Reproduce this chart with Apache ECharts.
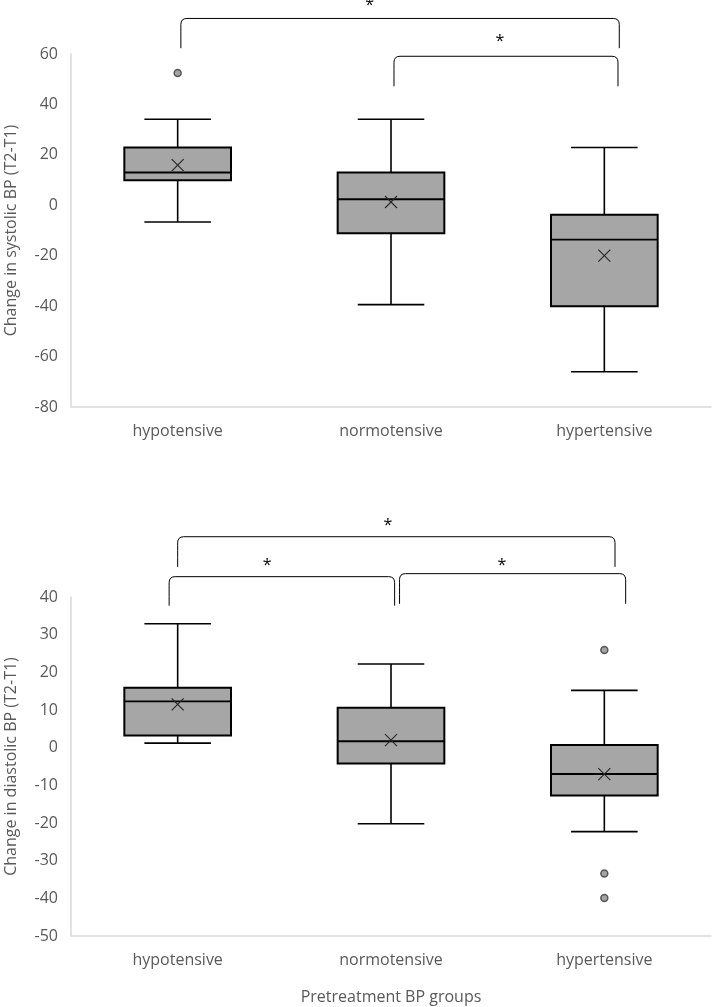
<!DOCTYPE html>
<html>
<head>
<meta charset="utf-8">
<script src="https://cdn.jsdelivr.net/npm/echarts@6/dist/echarts.min.js"></script>
<style>
html,body{margin:0;padding:0;background:#fff;}
#chart{width:714px;height:1007px;}
</style>
</head>
<body>
<div id="chart"></div>
<script>
// ---------- DATA ----------
const categories = ['hypotensive', 'normotensive', 'hypertensive'];

// [lower whisker, Q1, median, Q3, upper whisker]
const systolicBox = [
  [-6.6, 9.9, 13.0, 22.9, 34.1],
  [-39.4, -11.1, 2.4, 13.0, 34.1],
  [-66.0, -40.0, -13.6, -3.8, 22.9]
];
const systolicMean = [15.9, 1.3, -20.0];
const systolicOutliers = [[0, 52.5]];

const diastolicBox = [
  [1.2, 3.2, 12.3, 15.9, 32.9],
  [-20.2, -4.2, 1.7, 10.6, 22.2],
  [-22.3, -12.7, -7.0, 0.7, 15.2]
];
const diastolicMean = [11.5, 2.0, -7.0];
const diastolicOutliers = [[2, 25.9], [2, -33.4], [2, -39.9]];

// significance brackets: [from category pos, to category pos, bar level, foot level, star pos, star level]
const systolicBrackets = [
  [0.015, 2.07, 74.1, 62.3, 0.90, 79.4],
  [1.014, 2.064, 59.1, 47.2, 1.51, 65.1]
];
const diastolicBrackets = [
  [0.0, 2.05, 56.0, 48.0, 0.985, 59.1],
  [-0.04, 1.017, 45.4, 37.7, 0.42, 48.5],
  [1.04, 2.10, 46.2, 38.2, 1.52, 48.5]
];

const sysTicks = {min: -80, max: 60, interval: 20};
const diaTicks = {min: -50, max: 40, interval: 10};

// ---------- RENDERING ----------
const FONT = '"Open Sans", "Noto Sans", sans-serif';
const GREY_TXT = '#595959';

function boxRender(boxes, means) {
  return function (params, api) {
    const i = params.dataIndex;
    const b = boxes[i];
    const cx = api.coord([i, 0])[0];
    const band = api.size([1, 0])[0];
    const hw = band * 0.25;
    const cap = band * 0.078;
    const y = v => api.coord([i, v])[1];
    const lineStyle = {stroke: '#000', lineWidth: 1.6, fill: null};
    const my = y(means[i]);
    const m = 6;
    return {
      type: 'group',
      children: [
        {type: 'line', shape: {x1: cx, y1: y(b[0]), x2: cx, y2: y(b[1])}, style: lineStyle},
        {type: 'line', shape: {x1: cx, y1: y(b[3]), x2: cx, y2: y(b[4])}, style: lineStyle},
        {type: 'line', shape: {x1: cx - cap * 2, y1: y(b[0]), x2: cx + cap * 2, y2: y(b[0])}, style: lineStyle},
        {type: 'line', shape: {x1: cx - cap * 2, y1: y(b[4]), x2: cx + cap * 2, y2: y(b[4])}, style: lineStyle},
        {type: 'rect', shape: {x: cx - hw, y: y(b[3]), width: hw * 2, height: y(b[1]) - y(b[3])},
          style: {fill: '#a6a6a6', stroke: '#000', lineWidth: 2}},
        {type: 'line', shape: {x1: cx - hw, y1: y(b[2]), x2: cx + hw, y2: y(b[2])}, style: {stroke: '#000', lineWidth: 1.9}},
        {type: 'line', shape: {x1: cx - m, y1: my - m, x2: cx + m, y2: my + m}, style: {stroke: '#262626', lineWidth: 1.1}},
        {type: 'line', shape: {x1: cx - m, y1: my + m, x2: cx + m, y2: my - m}, style: {stroke: '#262626', lineWidth: 1.1}}
      ]
    };
  };
}

function bracketRender(brackets) {
  return function (params, api) {
    const br = brackets[params.dataIndex];
    const band = api.size([1, 0])[0];
    const px = pos => {
      const base = Math.round(pos);
      return api.coord([base, 0])[0] + (pos - base) * band;
    };
    const py = v => api.coord([0, v])[1];
    const x1 = px(br[0]), x2 = px(br[1]);
    const yt = py(br[2]), yf = py(br[3]);
    const r = 6;
    const path = 'M' + x1 + ',' + yf +
      ' Q' + x1 + ',' + (yt + r * 1.5) + ' ' + x1 + ',' + (yt + r) +
      ' Q' + x1 + ',' + yt + ' ' + (x1 + r) + ',' + yt +
      ' L' + (x2 - r) + ',' + yt +
      ' Q' + x2 + ',' + yt + ' ' + x2 + ',' + (yt + r) +
      ' L' + x2 + ',' + yf;
    return {
      type: 'group',
      children: [
        {type: 'path', shape: {pathData: path}, style: {stroke: '#000', lineWidth: 1, fill: null}},
        {type: 'text', x: px(br[4]), y: py(br[5]),
          style: {text: '*', fill: '#000', font: '16px ' + FONT, align: 'center', verticalAlign: 'middle'}}
      ]
    };
  };
}

function makeXAxis(gridIndex, name) {
  return {
    type: 'category', gridIndex, data: categories, boundaryGap: true,
    axisLine: {show: true, onZero: false, lineStyle: {color: '#d9d9d9', width: 1.5}},
    axisTick: {show: false},
    axisLabel: {color: GREY_TXT, fontSize: 16, fontFamily: FONT, margin: 16},
    splitLine: {show: false},
    name: name || '', nameLocation: 'middle', nameGap: 53,
    nameTextStyle: {color: GREY_TXT, fontSize: 16, fontFamily: FONT}
  };
}
function makeYAxis(gridIndex, ticks, name) {
  return {
    type: 'value', gridIndex, min: ticks.min, max: ticks.max, interval: ticks.interval,
    axisLine: {show: true, lineStyle: {color: '#d9d9d9', width: 1.5}},
    axisTick: {show: false},
    splitLine: {show: false},
    axisLabel: {color: GREY_TXT, fontSize: 16, fontFamily: FONT, margin: 13},
    name, nameLocation: 'middle', nameRotate: 90, nameGap: 52,
    nameTextStyle: {color: GREY_TXT, fontSize: 16, fontFamily: FONT}
  };
}

const chart = echarts.init(document.getElementById('chart'), null, {renderer: 'canvas'});
chart.setOption({
  backgroundColor: '#fff',
  animation: false,
  grid: [
    {left: 71, top: 54, right: 3, height: 353, containLabel: false, outerBoundsMode: 'none'},
    {left: 71, top: 597, right: 3, height: 339, containLabel: false, outerBoundsMode: 'none'}
  ],
  xAxis: [makeXAxis(0), makeXAxis(1, 'Pretreatment BP groups')],
  yAxis: [makeYAxis(0, sysTicks, 'Change in systolic BP (T2-T1)'),
          makeYAxis(1, diaTicks, 'Change in diastolic BP (T2-T1)')],
  series: [
    {type: 'custom', xAxisIndex: 0, yAxisIndex: 0, clip: false,
      data: systolicBox.map((b, i) => [i].concat(b)), encode: {x: 0, y: [1, 2, 3, 4, 5]},
      renderItem: boxRender(systolicBox, systolicMean)},
    {type: 'scatter', xAxisIndex: 0, yAxisIndex: 0, data: systolicOutliers, symbolSize: 7,
      itemStyle: {color: '#8c8c8c', borderColor: '#3a3a3a', borderWidth: 1.5}},
    {type: 'custom', xAxisIndex: 0, yAxisIndex: 0, clip: false,
      data: systolicBrackets.map((b, i) => [1, b[2]]), encode: {x: 0, y: 1},
      renderItem: bracketRender(systolicBrackets)},
    {type: 'custom', xAxisIndex: 1, yAxisIndex: 1, clip: false,
      data: diastolicBox.map((b, i) => [i].concat(b)), encode: {x: 0, y: [1, 2, 3, 4, 5]},
      renderItem: boxRender(diastolicBox, diastolicMean)},
    {type: 'scatter', xAxisIndex: 1, yAxisIndex: 1, data: diastolicOutliers, symbolSize: 7,
      itemStyle: {color: '#8c8c8c', borderColor: '#3a3a3a', borderWidth: 1.5}},
    {type: 'custom', xAxisIndex: 1, yAxisIndex: 1, clip: false,
      data: diastolicBrackets.map((b, i) => [1, b[2]]), encode: {x: 0, y: 1},
      renderItem: bracketRender(diastolicBrackets)}
  ]
});
</script>
</body>
</html>
